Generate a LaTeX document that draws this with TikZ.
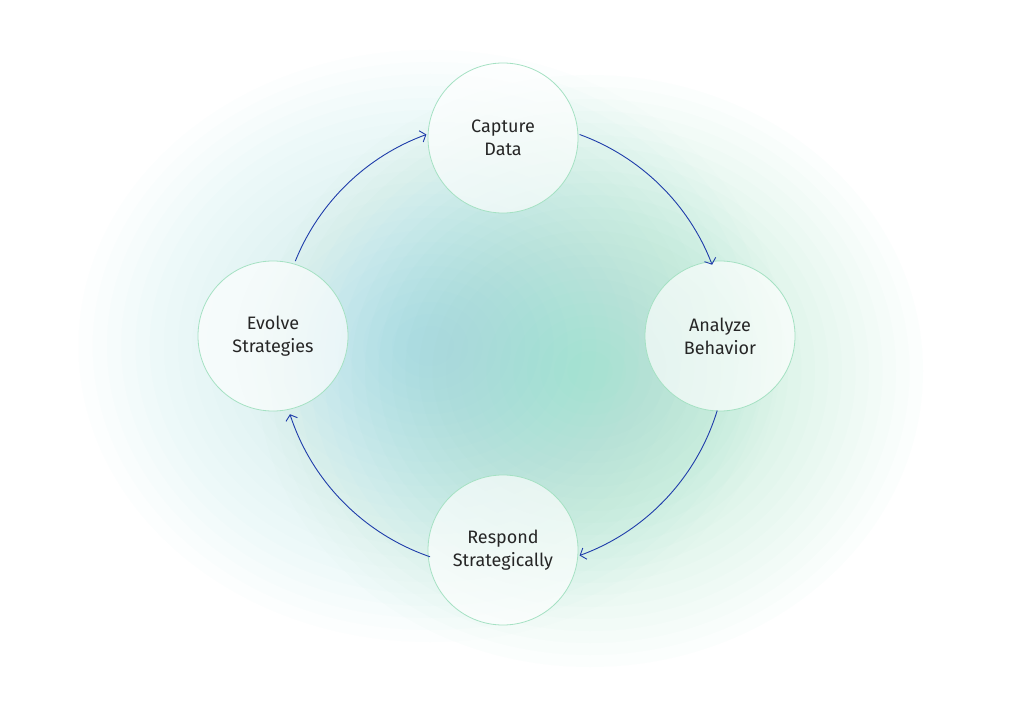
\documentclass[tikz,border=0pt]{standalone}
\usepackage{fontspec}
\setmainfont{Fira Sans}
\usetikzlibrary{arrows.meta,calc}
\definecolor{glowc}{RGB}{110,215,235}
\definecolor{glowg}{RGB}{100,225,170}
\definecolor{ring}{RGB}{165,225,195}
\definecolor{arrc}{RGB}{30,60,170}
\tikzset{
  stage/.style={circle,minimum size=150pt,draw=ring,line width=0.8pt,fill=white,fill opacity=0.65,text opacity=1,align=center,font=\fontsize{18}{23}\selectfont,text=black!85},
  arr/.style={draw=arrc,line width=0.9pt,-{Straight Barb[length=5pt,width=12pt]}}
}
\begin{document}
\begin{tikzpicture}[x=1pt,y=1pt]
\useasboundingbox (0,0) rectangle (1020,716);
\fill[white] (0,0) rectangle (1020,716);
\foreach \r in {370,355,...,20}{
  \fill[glowc,opacity=0.014] (430,370) circle[x radius=\r*0.95,y radius=\r*0.8];
  \fill[glowg,opacity=0.018] (590,345) circle[x radius=\r*0.9,y radius=\r*0.8];
}
\coordinate (O) at (503,371);
\node[stage] (C) at (503,578) {Capture\\Data};
\node[stage] (A) at (720,380) {Analyze\\Behavior};
\node[stage] (R) at (503,166) {Respond\\Strategically};
\node[stage] (E) at (273,380) {Evolve\\Strategies};
\coordinate (s1) at ($(O)+(70:224)$);
\coordinate (s2) at ($(O)+(-17:224)$);
\coordinate (s3) at ($(O)+(-109:224)$);
\coordinate (s4) at ($(O)+(158:224)$);
\draw[arr] (s1) arc[start angle=70,end angle=21,radius=224];
\draw[arr] (s2) arc[start angle=-17,end angle=-70,radius=224];
\draw[arr] (s3) arc[start angle=-109,end angle=-162,radius=224];
\draw[arr] (s4) arc[start angle=158,end angle=110,radius=224];
\end{tikzpicture}
\end{document}
